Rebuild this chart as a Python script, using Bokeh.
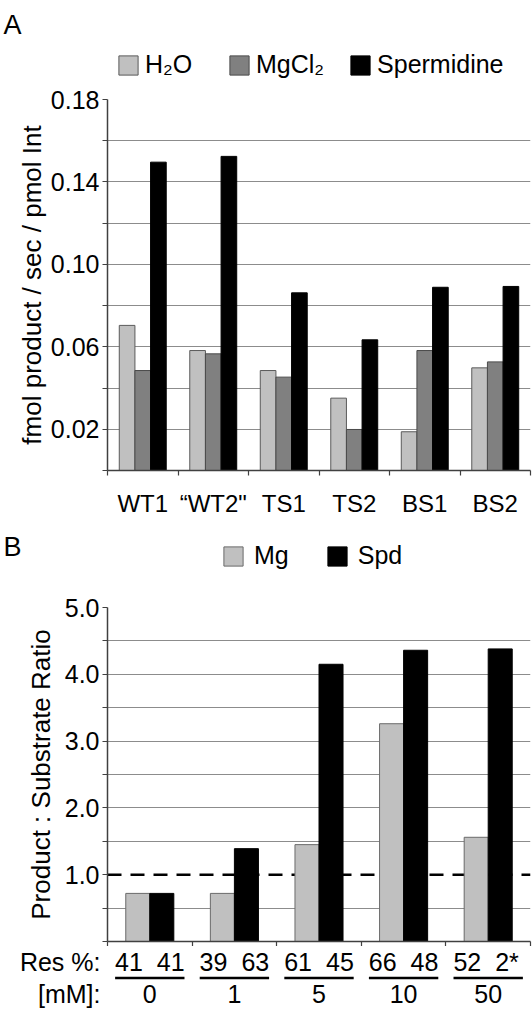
from bokeh.plotting import figure
from bokeh.models import (Range1d, FixedTicker, PrintfTickFormatter, Legend, LegendItem,
                          Span, ColumnDataSource)
from bokeh.layouts import column
from bokeh.transform import dodge
from bokeh.embed import file_html
from bokeh.resources import INLINE
from bokeh.core.properties import value

FONT = "Liberation Sans"

# ---------------- Panel A data ----------------
strains = ["WT1", "\u201cWT2\"", "TS1", "TS2", "BS1", "BS2"]
h2o = [0.0704, 0.0582, 0.0485, 0.0351, 0.0188, 0.0498]
mgcl2 = [0.0485, 0.0566, 0.0453, 0.0199, 0.0582, 0.0527]
spermidine = [0.1496, 0.1524, 0.0862, 0.0634, 0.0889, 0.0893]
series_a = ["H\u2082O", "MgCl\u2082", "Spermidine"]
a_labeled_ticks = [0.02, 0.06, 0.10, 0.14, 0.18]
a_minor_ticks = [0.0, 0.04, 0.08, 0.12, 0.16]

# ---------------- Panel B data ----------------
doses = ["0", "1", "5", "10", "50"]
mg = [0.72, 0.72, 1.45, 3.26, 1.56]
spd = [0.72, 1.39, 4.15, 4.36, 4.38]
series_b = ["Mg", "Spd"]
res_mg = ["41", "39", "61", "66", "52"]
res_spd = ["41", "63", "45", "48", "2*"]
b_labeled_ticks = [1.0, 2.0, 3.0, 4.0, 5.0]
b_minor_ticks = [0.0, 0.5, 1.5, 2.5, 3.5, 4.5]
threshold = 1.0

LIGHT, MID, DARK = "#c0c0c0", "#808080", "#000000"
LIGHT_LINE, MID_LINE, B_LIGHT_LINE = "#5a5a5a", "#4a4a4a", "#6a6a6a"
AXIS_C, GRID_C = "#404040", "#8c8c8c"
W, BL = 532, 107


def style_common(p):
    p.outline_line_color = None
    p.background_fill_color = "white"
    p.border_fill_color = "white"
    p.xgrid.visible = False
    p.ygrid.grid_line_color = GRID_C
    p.ygrid.grid_line_width = 1
    for ax in p.axis:
        ax.axis_line_color = AXIS_C
        ax.axis_line_width = 1.5
        ax.major_tick_line_color = AXIS_C
        ax.minor_tick_line_color = AXIS_C
        ax.major_tick_line_width = 1.2
        ax.minor_tick_line_width = 1.2
        ax.major_tick_in = 0
        ax.minor_tick_in = 0
        ax.major_tick_out = 5
        ax.minor_tick_out = 5
        ax.major_label_text_font = FONT
        ax.major_label_text_font_size = "25px"
        ax.major_label_text_color = "black"
        ax.axis_label_text_font = FONT
        ax.axis_label_text_font_size = "26px"
        ax.axis_label_text_font_style = "normal"
        ax.axis_label_text_color = "black"


def header(height, letter, letter_y, source, fields, labels, fills, lines, loc,
           standoff, spacing, label_width):
    """Strip above a panel: the panel letter (as axis text) and the legend."""
    h = figure(width=W, height=height, x_range=Range1d(0, 1), y_range=Range1d(0, height),
               output_backend="svg", toolbar_location=None, title=None,
               x_axis_location=None,
               min_border_left=BL, min_border_right=1, min_border_top=0, min_border_bottom=0)
    h.outline_line_color = None
    h.grid.visible = False
    ax = h.yaxis[0]
    ax.ticker = FixedTicker(ticks=[letter_y])
    ax.major_label_overrides = {letter_y: letter}
    ax.axis_line_color = None
    ax.major_tick_line_color = None
    ax.minor_tick_line_color = None
    ax.major_tick_out = 0
    ax.major_label_standoff = 86
    ax.major_label_text_font = FONT
    ax.major_label_text_font_size = "27px"
    ax.major_label_text_color = "black"
    items = []
    for f, lab, fc, lc in zip(fields, labels, fills, lines):
        # same data as the panel bars; hidden here, used only for the legend swatch
        r = h.vbar(x="pos", top=f, width=0.1, source=source,
                   fill_color=fc, line_color=lc, line_width=1, visible=False)
        items.append(LegendItem(label=lab, renderers=[r]))
    leg = Legend(items=items, location=loc, orientation="horizontal",
                 glyph_width=24, glyph_height=24, label_height=24, label_width=label_width,
                 label_standoff=standoff, spacing=spacing, padding=0, margin=0,
                 border_line_color=None, background_fill_alpha=0, inactive_fill_alpha=0,
                 click_policy="none", label_text_font=FONT, label_text_font_size="25px",
                 label_text_color="black")
    h.add_layout(leg)
    return h


# ================= Panel A =================
posA = [i + 0.5 for i in range(len(strains))]
srcA = ColumnDataSource(dict(pos=posA, h2o=h2o, mgcl2=mgcl2, spd=spermidine))
hA = header(85, "A", 79, srcA, ["h2o", "mgcl2", "spd"], series_a,
            [LIGHT, MID, DARK], [LIGHT_LINE, MID_LINE, DARK], (9, 6), 5, 24, 58)

pA = figure(width=W, height=440, x_range=Range1d(0, len(strains)), y_range=Range1d(0, 0.18),
            output_backend="svg", toolbar_location=None, title=None,
            min_border_left=BL, min_border_right=1, min_border_top=14, min_border_bottom=55)
bwA = 0.222
pA.vbar(x=dodge("pos", -bwA, range=pA.x_range), top="h2o", width=bwA, source=srcA,
        fill_color=LIGHT, line_color=LIGHT_LINE, line_width=1)
pA.vbar(x="pos", top="mgcl2", width=bwA, source=srcA,
        fill_color=MID, line_color=MID_LINE, line_width=1)
pA.vbar(x=dodge("pos", bwA, range=pA.x_range), top="spd", width=bwA, source=srcA,
        fill_color=DARK, line_color=DARK, line_width=1)
style_common(pA)
pA.ygrid.ticker = FixedTicker(ticks=sorted(a_labeled_ticks + a_minor_ticks[1:]))
ya = pA.yaxis[0]
ya.ticker = FixedTicker(ticks=a_labeled_ticks, minor_ticks=a_minor_ticks)
ya.formatter = PrintfTickFormatter(format="%.2f")
ya.major_label_standoff = 3
ya.axis_label = "fmol product / sec / pmol Int"
ya.axis_label_standoff = 1
xa = pA.xaxis[0]
xa.ticker = FixedTicker(ticks=posA, minor_ticks=list(range(0, len(strains) + 1)))
xa.major_label_overrides = {p: s for p, s in zip(posA, strains)}
xa.major_tick_out = 0
xa.major_label_standoff = 14
xa.major_label_text_font_size = "24px"

# ================= Panel B =================
posB = [i + 0.5 for i in range(len(doses))]
srcB = ColumnDataSource(dict(pos=posB, mg=mg, spd=spd, res_mg=res_mg, res_spd=res_spd, dose=doses))
hB = header(67, "B", 46, srcB, ["mg", "spd"], series_b,
            [LIGHT, DARK], [B_LIGHT_LINE, DARK], (114, 22), 9, 36, 20)

pB = figure(width=W, height=354, x_range=Range1d(0, len(doses)), y_range=Range1d(0, 5),
            output_backend="svg", toolbar_location=None, title=None,
            min_border_left=BL, min_border_right=2, min_border_top=15, min_border_bottom=5)
style_common(pB)
pB.ygrid.ticker = FixedTicker(ticks=[t for t in sorted(b_labeled_ticks + b_minor_ticks[1:]) if t != threshold])
pB.add_layout(Span(location=threshold, dimension="width", line_color="black",
                   line_dash="14 9", line_width=2.5, level="underlay"))
bwB = 0.284
pB.vbar(x=dodge("pos", -bwB / 2, range=pB.x_range), top="mg", width=bwB, source=srcB,
        fill_color=LIGHT, line_color=B_LIGHT_LINE, line_width=1)
pB.vbar(x=dodge("pos", bwB / 2, range=pB.x_range), top="spd", width=bwB, source=srcB,
        fill_color=DARK, line_color=DARK, line_width=1)
yb = pB.yaxis[0]
yb.ticker = FixedTicker(ticks=b_labeled_ticks, minor_ticks=b_minor_ticks)
yb.formatter = PrintfTickFormatter(format="%.1f")
yb.major_label_standoff = 3
yb.axis_label = "Product : Substrate Ratio"
yb.axis_label_standoff = 6
xb = pB.xaxis[0]
xb.ticker = FixedTicker(ticks=[], minor_ticks=list(range(0, len(doses) + 1)))
xb.major_tick_out = 0
xb.major_label_standoff = 0
xb.major_label_text_font_size = "0px"

# ================= Table under panel B =================
ROW_RES, ROW_LINE, ROW_DOSE = 3.0, 2.0, 1.0
pT = figure(width=W, height=63, x_range=pB.x_range, y_range=Range1d(0, 4),
            output_backend="svg", toolbar_location=None, x_axis_location=None, title=None,
            min_border_left=BL, min_border_right=2, min_border_top=0, min_border_bottom=0)
pT.outline_line_color = None
pT.grid.visible = False
yt = pT.yaxis[0]
yt.ticker = FixedTicker(ticks=[ROW_DOSE, ROW_RES])
yt.major_label_overrides = {ROW_RES: "Res %:", ROW_DOSE: "[mM]:"}
yt.axis_line_color = None
yt.major_tick_line_color = None
yt.minor_tick_line_color = None
yt.major_tick_out = 0
yt.major_label_standoff = 7
yt.major_label_text_font = FONT
yt.major_label_text_font_size = "25px"
yt.major_label_text_color = "black"

tkw = dict(text_font=value(FONT), text_font_size="25px", text_baseline="middle",
           text_color="black", source=srcB)
pT.text(x="pos", y=ROW_RES, text="res_mg", text_align="right", x_offset=-7, **tkw)
pT.text(x="pos", y=ROW_RES, text="res_spd", text_align="left", x_offset=7, **tkw)
pT.rect(x="pos", y=ROW_LINE, width=0.82, height=2.5, height_units="screen",
        fill_color="black", line_color=None, source=srcB)
pT.text(x="pos", y=ROW_DOSE, text="dose", text_align="center", **tkw)

layout = column(hA, pA, hB, pB, pT, spacing=0)
open("out.html", "w").write(file_html(layout, INLINE))
